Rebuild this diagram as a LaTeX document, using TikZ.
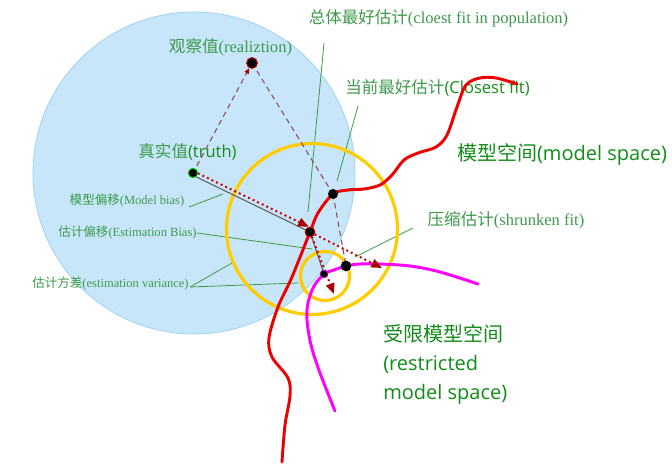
\documentclass[tikz,border=0pt]{standalone}
\usepackage{fontspec}
\setmainfont{Liberation Serif}
\setsansfont{Open Sans}
\newfontfamily\cjk{Noto Sans CJK SC}
\usetikzlibrary{arrows.meta}
\definecolor{bluefill}{HTML}{C8E6FA}
\definecolor{blueedge}{HTML}{9FD2F5}
\definecolor{gold}{HTML}{FFCC00}
\definecolor{txtgreen}{HTML}{3C9A4A}
\definecolor{sgreen}{HTML}{128C18}
\definecolor{leader}{HTML}{3F9A3F}
\definecolor{dashred}{HTML}{8E4A5C}
\definecolor{dotred}{HTML}{CC0000}
\definecolor{tipred}{HTML}{AA0000}
\definecolor{magentaline}{HTML}{FF00FF}
\definecolor{redline}{HTML}{EE0000}
\definecolor{ringgreen}{HTML}{00CC00}
\begin{document}
\begin{tikzpicture}[x=0.75pt,y=-0.75pt,
  lab/.style={inner sep=0pt, text=txtgreen, font=\fontsize{12.4}{14}\selectfont},
  smalllab/.style={inner sep=0pt, text=txtgreen, font=\fontsize{9.4}{11}\selectfont},
  biglab/.style={inner sep=0pt, text=sgreen, font=\sffamily\fontsize{15}{21.75}\selectfont},
  leaderline/.style={leader, line width=0.6pt},
  dashline/.style={dashred, line width=0.8pt, dash pattern=on 4pt off 3pt},
  dotline/.style={dotred, line width=1.5pt, dash pattern=on 1.5pt off 2.3pt},
  grayline/.style={black!65, line width=0.75pt},
  redtip/.style={-{Triangle[length=8pt,width=6.5pt,fill=tipred,color=tipred]}},
  smalltip/.style={-{Triangle[length=4pt,width=3.5pt,fill=tipred,color=tipred]}},
  dotpt/.style={circle, fill=black, inner sep=0pt, minimum size=#1},
  goldring/.style={gold, line width=2.4pt},
]
\useasboundingbox (0,0) rectangle (672,466);

% big blue region
\fill[bluefill] (194,173) circle[radius=120.75pt];
\draw[blueedge, line width=0.6pt] (194,173) circle[radius=120.75pt];

% points
\coordinate (truth) at (193,173);
\coordinate (obs) at (252,63);
\coordinate (closest) at (333,194);
\coordinate (pop) at (310,232);
\coordinate (est) at (324,274);
\coordinate (shrunk) at (346,266);
\coordinate (tipA) at (382,268);
\coordinate (tipB) at (334,294);

% leader line end points
\coordinate (l1a) at (324,43);  \coordinate (l1b) at (308,212);
\coordinate (l2a) at (358,106); \coordinate (l2b) at (337,181);
\coordinate (l3a) at (189,207); \coordinate (l3b) at (223,194);
\coordinate (l4a) at (197,233); \coordinate (l4b) at (312,249);
\coordinate (l5a) at (190,287); \coordinate (l5b) at (232,263);
\coordinate (l6b) at (298,283);
\coordinate (l7a) at (413,228); \coordinate (l7b) at (355,257);

% labels
\node[lab] (popLabel) at (438.5,18) {{\cjk 总体最好估计}(cloest fit in population)};
\node[lab] (obsLabel) at (230.5,47) {{\cjk 观察值}(realiztion)};
\node[lab] (truthLabel) at (187.5,152) {{\cjk 真实值}{\sffamily\color{sgreen}(truth)}};
\node[lab] (closestLabel) at (437.5,88) {{\cjk 当前最好估计}{\sffamily\color{sgreen}(Closest fit)}};
\node[biglab] (modelLabel) at (562,154) {{\cjk 模型空间}(model space)};
\node[lab] (shrunkLabel) at (506,220) {{\cjk 压缩估计}(shrunken fit)};
\node[smalllab] (biasLabel) at (127,201) {{\cjk 模型偏移}(Model bias)};
\node[smalllab] (estBiasLabel) at (127.5,233) {{\cjk 估计偏移}(Estimation Bias)};
\node[smalllab] (varLabel) at (110.5,284) {{\cjk 估计方差}(estimation variance)};
\node[biglab, anchor=west, align=left] (restrLabel) at (383,364) {{\cjk 受限模型空间}\\(restricted\\model space)};

% leader lines
\draw[leaderline] (l1a) -- (l1b);
\draw[leaderline] (l2a) -- (l2b);
\draw[leaderline] (l3a) -- (l3b);
\draw[leaderline] (l4a) -- (l4b);
\draw[leaderline] (l5a) -- (l5b);
\draw[leaderline] (l5a) -- (l6b);
\draw[leaderline] (l7a) -- (l7b);

% variance rings
\draw[goldring] (312,229) circle[radius=64.1pt];
\draw[goldring] (325,276) circle[radius=18.4pt];

% model space (red) curve
\draw[redline, line width=2.2pt, line cap=round] plot[smooth, tension=0.55] coordinates {
  (517,84) (496,78) (480,78) (466,85) (457,107) (447,135) (436,147) (418,153)
  (404,160) (392,175) (380,185) (364,189) (348,190) (333,194) (318,213) (310,232)
  (292,277) (278,307) (269,338) (272,357) (288,378) (290,396) (285,425) (282,462)};

% restricted model space (magenta) curve
\draw[magentaline, line width=2.2pt, line cap=round] plot[smooth, tension=0.55] coordinates {
  (478,284) (440,272) (410,266) (380,264) (360,264) (346,266) (331,271) (324,274)
  (314,286) (308,303) (307,320) (311,345) (320,373) (335,411)};

% dashed (observation) lines
\draw[dashline, smalltip, shorten <=6pt, shorten >=4.5pt] (truth) -- (obs);
\draw[dashline] (obs) -- (closest);
\draw[dashline] (closest) -- (shrunk);

% gray solid path truth -> population fit -> estimate
\draw[grayline] ([xshift=2.5pt,yshift=-3pt]truth) -- (pop) -- (est);

% red dotted arrows
\draw[dotline, redtip, shorten <=4pt, shorten >=1pt] ([yshift=1.5pt]truth) -- ([yshift=3.5pt]pop);
\draw[dotline, redtip] (pop) -- (tipA);
\draw[dotline, redtip] (pop) -- (tipB);

% dots
\node[dotpt=7pt, draw=ringgreen, line width=0.7pt] at (truth) {};
\node[dotpt=8pt, draw=tipred, line width=0.8pt] at (obs) {};
\node[dotpt=7.5pt] at (closest) {};
\node[dotpt=7.5pt, draw=redline, line width=0.5pt] at (pop) {};
\node[dotpt=6pt, draw=magentaline, line width=0.4pt] at (est) {};
\node[dotpt=8pt] at (shrunk) {};
\end{tikzpicture}
\end{document}
